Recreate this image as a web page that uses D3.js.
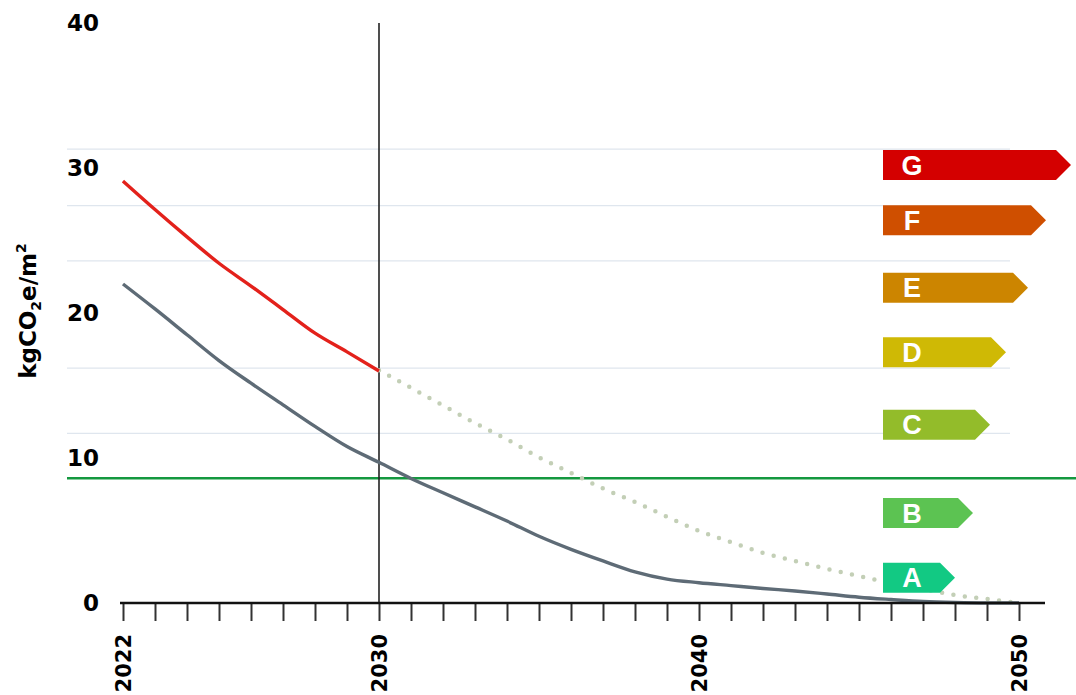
<!DOCTYPE html>
<html>
<head>
<meta charset="utf-8">
<script src="https://cdn.jsdelivr.net/npm/d3@7"></script>
<style>
  body { margin: 0; background: #fff; }
  svg { display: block; }
</style>
</head>
<body>
<svg id="svg" width="1076" height="695"></svg>
<script>
// data (kgCO2e/m2)
const redYears = [2022, 2023, 2024, 2025, 2026, 2027, 2028, 2029, 2030];
const redValues = [29.1, 27.14, 25.25, 23.43, 21.86, 20.24, 18.61, 17.32, 16.0];

const grayYears = [2022, 2023, 2024, 2025, 2026, 2027, 2028, 2029, 2030, 2031,
  2032, 2033, 2034, 2035, 2036, 2037, 2038, 2039, 2040, 2041, 2042, 2043, 2044,
  2045, 2046, 2047, 2048, 2049, 2050];
const grayValues = [22.0, 20.28, 18.5, 16.72, 15.16, 13.67, 12.18, 10.79, 9.7, 8.59,
  7.6, 6.63, 5.65, 4.6, 3.7, 2.9, 2.15, 1.65, 1.4, 1.2, 1.0, 0.83, 0.62,
  0.4, 0.24, 0.1, 0.03, 0.0, 0.0];

const dotYears = [2030, 2031, 2032, 2033, 2034, 2035, 2036, 2037, 2038, 2039,
  2040, 2041, 2042, 2043, 2044, 2045, 2046, 2047, 2048, 2049, 2050];
const dotValues = [16.05, 14.84, 13.63, 12.41, 11.28, 10.05, 8.97, 7.9, 6.97, 5.95,
  4.97, 4.2, 3.45, 2.9, 2.35, 1.86, 1.38, 0.97, 0.55, 0.28, 0.0];

const yTicks = [0, 10, 20, 30, 40];
const xLabelYears = [2022, 2030, 2040, 2050];
const gridValues = [31.3, 27.4, 23.6, 16.2, 11.7];
const targetValue = 8.6;
const markerYear = 2030;

const ratings = ["G", "F", "E", "D", "C", "B", "A"];
const ratingLevels = [30.2, 26.4, 21.75, 17.3, 12.3, 6.2, 1.75];
const ratingColors = ["#d40000", "#cf4f00", "#cc8500", "#cfb905", "#93bc2a", "#5cc352", "#12c983"];

let container = d3.select("#svg");

let xScale = d3.scaleLinear().domain([2022, 2050]).range([123, 1019]);
let yScale = d3.scaleLinear().domain([0, 40]).range([603, 23]);

// light grid lines
container
  .selectAll(".grid")
  .data(gridValues)
  .enter()
  .append("line")
  .attr("class", "grid")
  .attr("x1", 67)
  .attr("x2", 1010)
  .attr("y1", (d) => yScale(d))
  .attr("y2", (d) => yScale(d))
  .attr("stroke", "#dfe6ee")
  .attr("stroke-width", 1.3);

// target line
container
  .append("line")
  .attr("x1", 67)
  .attr("x2", 1076)
  .attr("y1", yScale(targetValue))
  .attr("y2", yScale(targetValue))
  .attr("stroke", "#14983f")
  .attr("stroke-width", 2.5);

// 2030 marker
container
  .append("line")
  .attr("x1", xScale(markerYear))
  .attr("x2", xScale(markerYear))
  .attr("y1", yScale(40))
  .attr("y2", yScale(0))
  .attr("stroke", "#222")
  .attr("stroke-width", 1.6);

function lineOf(years, values) {
  let data = years.map((y, i) => ({ year: y, value: values[i] }));
  return d3
    .line()
    .x((d) => xScale(d.year))
    .y((d) => yScale(d.value))
    .curve(d3.curveMonotoneX)(data);
}

container
  .append("path")
  .attr("d", lineOf(dotYears, dotValues))
  .attr("fill", "none")
  .attr("stroke", "#c3cfb6")
  .attr("stroke-width", 4.5)
  .attr("stroke-linecap", "round")
  .attr("stroke-dasharray", "0 11.5");

container
  .append("path")
  .attr("d", lineOf(grayYears, grayValues))
  .attr("fill", "none")
  .attr("stroke", "#5e6b76")
  .attr("stroke-width", 3.4);

container
  .append("path")
  .attr("d", lineOf(redYears, redValues))
  .attr("fill", "none")
  .attr("stroke", "#e3211b")
  .attr("stroke-width", 3.4);

// x axis
let xAxis = container
  .append("g")
  .attr("transform", "translate(0," + yScale(0) + ")")
  .call(d3.axisBottom(xScale).tickValues(grayYears).tickSize(18).tickFormat(""));
xAxis.select(".domain").remove();
xAxis.selectAll(".tick line").attr("stroke", "#333").attr("stroke-width", 2);
xAxis
  .append("line")
  .attr("x1", 120)
  .attr("x2", 1045)
  .attr("stroke", "#111")
  .attr("stroke-width", 2.6);

container
  .selectAll(".xlabel")
  .data(xLabelYears)
  .enter()
  .append("text")
  .attr("class", "xlabel")
  .attr("transform", (d) => "translate(" + xScale(d) + ",634) rotate(-90)")
  .attr("text-anchor", "end")
  .attr("dy", "0.36em")
  .style("font-family", "DejaVu Sans")
  .style("font-weight", "bold")
  .style("font-size", "21px")
  .attr("fill", "#000")
  .text((d) => d);

// y labels
container
  .selectAll(".ylabel")
  .data(yTicks)
  .enter()
  .append("text")
  .attr("class", "ylabel")
  .attr("x", 99)
  .attr("y", (d) => yScale(d))
  .attr("dy", "0.36em")
  .attr("text-anchor", "end")
  .style("font-family", "DejaVu Sans")
  .style("font-weight", "bold")
  .style("font-size", "23px")
  .attr("fill", "#000")
  .text((d) => d);

let yTitle = container
  .append("text")
  .attr("transform", "translate(36,311) rotate(-90)")
  .attr("text-anchor", "middle")
  .style("font-family", "DejaVu Sans")
  .style("font-weight", "bold")
  .style("font-size", "23px")
  .attr("fill", "#000");
yTitle.append("tspan").text("kgCO");
yTitle.append("tspan").attr("dy", 5).style("font-size", "14px").text("2");
yTitle.append("tspan").attr("dy", -5).text("e/m");
yTitle.append("tspan").attr("dy", -10).style("font-size", "14px").text("2");

// rating arrows
const arrowLeft = 883;
const arrowLen = [188, 163, 145, 123, 107, 90, 72];
const half = 15;
const tip = 15;

let rating = container
  .selectAll(".rating")
  .data(ratings)
  .enter()
  .append("g")
  .attr("class", "rating")
  .attr("transform", (d, i) => "translate(" + arrowLeft + "," + yScale(ratingLevels[i]) + ")");

rating
  .append("path")
  .attr("d", (d, i) => {
    let w = arrowLen[i];
    return "M0," + -half + "H" + (w - tip) + "L" + w + ",0L" + (w - tip) + "," + half + "H0Z";
  })
  .attr("fill", (d, i) => ratingColors[i]);

rating
  .append("text")
  .attr("x", 29)
  .attr("dy", "0.36em")
  .attr("text-anchor", "middle")
  .style("font-family", "Liberation Sans")
  .style("font-weight", "bold")
  .style("font-size", "27px")
  .attr("fill", "#fff")
  .text((d) => d);
</script>
</body>
</html>
